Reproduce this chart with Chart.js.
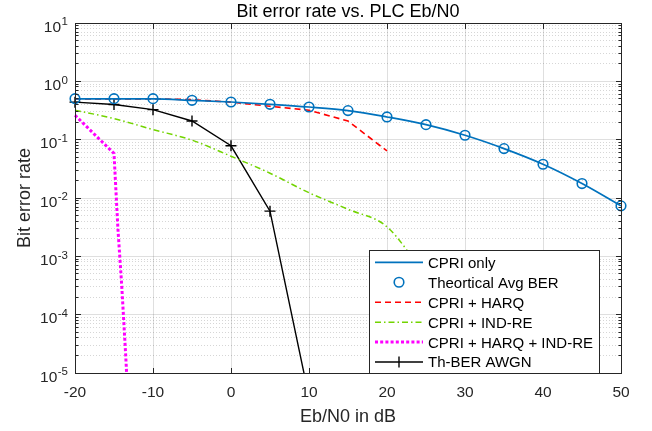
<!DOCTYPE html>
<html><head><meta charset="utf-8">
<script src="https://cdn.jsdelivr.net/npm/chart.js@4/dist/chart.umd.min.js"></script>
<style>html,body{margin:0;padding:0;background:#fff;}#wrap{width:652px;height:431px;position:relative;}</style>
</head><body><div id="wrap"><canvas id="c" width="652" height="431"></canvas></div>
<script>
// ---------- data ----------
const titleText = 'Bit error rate vs. PLC Eb/N0';
const xTitle = 'Eb/N0 in dB';
const yTitle = 'Bit error rate';
const xTicks = [-20, -10, 0, 10, 20, 30, 40, 50];
const yDecades = [-5, -4, -3, -2, -1, 0, 1];

const ebn0 = [-20, -15, -10, -5, 0, 5, 10, 15, 20, 25, 30, 35, 40, 45, 50];
const cpriOnly = [0.50, 0.50, 0.50, 0.473, 0.442, 0.404, 0.363, 0.315, 0.245, 0.181, 0.119, 0.0703, 0.0379, 0.0177, 0.00733];
const theoreticalAvg = [0.505, 0.505, 0.505, 0.473, 0.442, 0.404, 0.363, 0.315, 0.245, 0.181, 0.119, 0.0703, 0.0379, 0.0177, 0.00733];

const harqX = [-20, -15, -10, -5, 0, 5, 10, 15, 20];
const harqBer = [0.50, 0.50, 0.50, 0.486, 0.44, 0.373, 0.319, 0.209, 0.064];

const indReX = [-20, -15, -10, -5, 0, 5, 10, 15, 20, 25];
const indReBer = [0.32, 0.23, 0.149, 0.098, 0.052, 0.0266, 0.0123, 0.0064, 0.0032, 0.00045];

const harqIndReX = [-20, -15, -14.5, -14, -13.5, -13];
const harqIndReBer = [0.262, 0.058, 0.003, 0.0003, 0.00002, 0.000001];

const awgnX = [-20, -15, -10, -5, 0, 5, 10];
const awgnBer = [0.44, 0.40, 0.327, 0.209, 0.0786, 0.00595, 0.00000387];

const legendLabels = ['CPRI only', 'Theortical Avg BER', 'CPRI + HARQ', 'CPRI + IND-RE', 'CPRI + HARQ + IND-RE', 'Th-BER AWGN'];

// ---------- styling ----------
const FONT = '"Liberation Sans", Arial, Helvetica, sans-serif';
const AX = '#262626';
const C_BLUE = '#0072BD', C_RED = '#FF0000', C_GREEN = '#72D400', C_MAG = '#FF00FF', C_BLK = '#000000';
const DASH_RED = [6, 4], DASH_GREEN = [6, 3, 1.5, 3], DASH_MAG = [3, 2.2];

const pts = (xs, ys) => xs.map((x, i) => ({x: x, y: ys[i]}));
const clipBottom = {left: 10, top: 10, right: 10, bottom: 0};

const datasets = [
  {label: legendLabels[0], data: pts(ebn0, cpriOnly), borderColor: C_BLUE, borderWidth: 1.7, pointRadius: 0, fill: false, clip: clipBottom, cubicInterpolationMode: 'monotone'},
  {label: legendLabels[1], data: pts(ebn0, theoreticalAvg), showLine: false, borderColor: C_BLUE, backgroundColor: 'rgba(0,0,0,0)', pointStyle: 'circle', pointRadius: 4.8, pointBorderWidth: 1.6, pointBorderColor: C_BLUE, pointBackgroundColor: 'rgba(0,0,0,0)', clip: {left: 10, top: 10, right: 10, bottom: 10}},
  {label: legendLabels[2], data: pts(harqX, harqBer), borderColor: C_RED, borderWidth: 1.6, borderDash: DASH_RED, pointRadius: 0, fill: false, clip: clipBottom},
  {label: legendLabels[3], data: pts(indReX, indReBer), borderColor: C_GREEN, borderWidth: 1.5, borderDash: DASH_GREEN, pointRadius: 0, fill: false, clip: clipBottom, cubicInterpolationMode: 'monotone'},
  {label: legendLabels[4], data: pts(harqIndReX, harqIndReBer), borderColor: C_MAG, borderWidth: 3, borderDash: DASH_MAG, pointRadius: 0, fill: false, clip: clipBottom},
  {label: legendLabels[5], data: pts(awgnX, awgnBer), borderColor: C_BLK, borderWidth: 1.4, pointStyle: 'cross',
   pointRadius: ctx => (ctx.raw && ctx.raw.y < 1e-5 ? 0 : 5.5), pointBorderWidth: 1.4, pointBorderColor: C_BLK, fill: false, clip: clipBottom}
];

function half(v) { return Math.round(v - 0.5) + 0.5; }

const matlabAxes = {
  id: 'matlabAxes',
  beforeDatasetsDraw(chart) {
    const ctx = chart.ctx, a = chart.chartArea, xs = chart.scales.x, ys = chart.scales.y;
    ctx.save();
    ctx.strokeStyle = 'rgba(38,38,38,0.19)';
    ctx.lineWidth = 1;
    ctx.setLineDash([1, 2]);
    for (let e = yDecades[0]; e < yDecades[yDecades.length - 1]; e++) {
      for (let m = 2; m <= 9; m++) {
        const py = half(ys.getPixelForValue(m * Math.pow(10, e)));
        ctx.beginPath(); ctx.moveTo(a.left, py); ctx.lineTo(a.right, py); ctx.stroke();
      }
    }
    ctx.setLineDash([]);
    ctx.strokeStyle = 'rgba(38,38,38,0.15)';
    yDecades.forEach(e => {
      const py = half(ys.getPixelForValue(Math.pow(10, e)));
      ctx.beginPath(); ctx.moveTo(a.left, py); ctx.lineTo(a.right, py); ctx.stroke();
    });
    xTicks.forEach(t => {
      const px = half(xs.getPixelForValue(t));
      ctx.beginPath(); ctx.moveTo(px, a.top); ctx.lineTo(px, a.bottom); ctx.stroke();
    });
    ctx.restore();
  },
  afterDatasetsDraw(chart) {
    const ctx = chart.ctx, a = chart.chartArea, xs = chart.scales.x, ys = chart.scales.y;
    ctx.save();
    ctx.strokeStyle = AX; ctx.lineWidth = 1;
    const L = half(a.left), R = half(a.right), T = half(a.top), B = half(a.bottom);
    ctx.strokeRect(L, T, R - L, B - T);
    xTicks.forEach(t => {
      const px = half(xs.getPixelForValue(t));
      ctx.beginPath(); ctx.moveTo(px, B); ctx.lineTo(px, B - 5.5); ctx.moveTo(px, T); ctx.lineTo(px, T + 5.5); ctx.stroke();
    });
    for (let e = yDecades[0]; e <= yDecades[yDecades.length - 1]; e++) {
      const py = half(ys.getPixelForValue(Math.pow(10, e)));
      ctx.beginPath(); ctx.moveTo(L, py); ctx.lineTo(L + 5.5, py); ctx.moveTo(R, py); ctx.lineTo(R - 5.5, py); ctx.stroke();
      if (e < yDecades[yDecades.length - 1]) {
        for (let m = 2; m <= 9; m++) {
          const pm = half(ys.getPixelForValue(m * Math.pow(10, e)));
          ctx.beginPath(); ctx.moveTo(L, pm); ctx.lineTo(L + 3, pm); ctx.moveTo(R, pm); ctx.lineTo(R - 3, pm); ctx.stroke();
        }
      }
    }
    ctx.fillStyle = AX;
    ctx.textAlign = 'center'; ctx.textBaseline = 'alphabetic';
    ctx.font = '15.5px ' + FONT;
    xTicks.forEach(t => { ctx.fillText(String(t), xs.getPixelForValue(t), a.bottom + 23.5); });
    yDecades.forEach(e => {
      const py = ys.getPixelForValue(Math.pow(10, e));
      const expStr = String(e);
      ctx.font = '11.5px ' + FONT;
      const ew = ctx.measureText(expStr).width;
      ctx.textAlign = 'right';
      ctx.fillText(expStr, 68, py + 2.2);
      ctx.font = '15.5px ' + FONT;
      ctx.fillText('10', 68 - ew - 0.5, py + 8.8);
    });
    ctx.font = '18px ' + FONT;
    ctx.textAlign = 'center';
    ctx.fillText(xTitle, (a.left + a.right) / 2, 422);
    ctx.save();
    ctx.translate(29.5, (a.top + a.bottom) / 2);
    ctx.rotate(-Math.PI / 2);
    ctx.fillText(yTitle, 0, 0);
    ctx.restore();
    ctx.fillStyle = '#000';
    ctx.font = '18px ' + FONT;
    ctx.fillText(titleText, (a.left + a.right) / 2, 17);
    ctx.restore();
  },
  afterDraw(chart) {
    const ctx = chart.ctx, a = chart.chartArea;
    ctx.save();
    const bx = 369.5, by = 250.5, bw = 230, bh = half(a.bottom) - by;
    ctx.fillStyle = '#fff';
    ctx.fillRect(bx, by, bw, bh);
    ctx.strokeStyle = AX; ctx.lineWidth = 1;
    ctx.strokeRect(bx, by, bw, bh);
    const x0 = 375, x1 = 423, xm = 399, tx = 428;
    datasets.forEach((d, i) => {
      const ry = 262.3 + i * 19.95;
      ctx.save();
      if (i === 1) {
        ctx.strokeStyle = C_BLUE; ctx.lineWidth = 1.6;
        ctx.beginPath(); ctx.arc(xm, ry, 4.8, 0, Math.PI * 2); ctx.stroke();
      } else {
        ctx.strokeStyle = d.borderColor; ctx.lineWidth = d.borderWidth;
        ctx.setLineDash(d.borderDash || []);
        ctx.beginPath(); ctx.moveTo(x0, ry); ctx.lineTo(x1, ry); ctx.stroke();
        if (i === 5) {
          ctx.setLineDash([]);
          ctx.beginPath(); ctx.moveTo(xm, ry - 5.5); ctx.lineTo(xm, ry + 5.5); ctx.stroke();
        }
      }
      ctx.restore();
      ctx.fillStyle = '#000';
      ctx.font = '15px ' + FONT;
      ctx.textAlign = 'left'; ctx.textBaseline = 'alphabetic';
      ctx.fillText(d.label, tx, ry + 5.4);
    });
    ctx.restore();
  }
};

new Chart(document.getElementById('c'), {
  type: 'line',
  data: {datasets: datasets},
  options: {
    responsive: false,
    devicePixelRatio: 1,
    animation: false,
    elements: {line: {tension: 0, borderCapStyle: 'butt'}},
    layout: {padding: {left: 0, right: 31, top: 23, bottom: 0}},
    plugins: {legend: {display: false}, title: {display: false}, tooltip: {enabled: false}},
    scales: {
      x: {type: 'linear', min: -20, max: 50,
          ticks: {display: false}, grid: {display: false}, border: {display: false},
          afterFit: s => { s.height = 58; }},
      y: {type: 'logarithmic', min: 1e-5, max: 10,
          ticks: {display: false}, grid: {display: false}, border: {display: false},
          afterFit: s => { s.width = 75; }}
    }
  },
  plugins: [matlabAxes]
});
</script>
</body></html>
